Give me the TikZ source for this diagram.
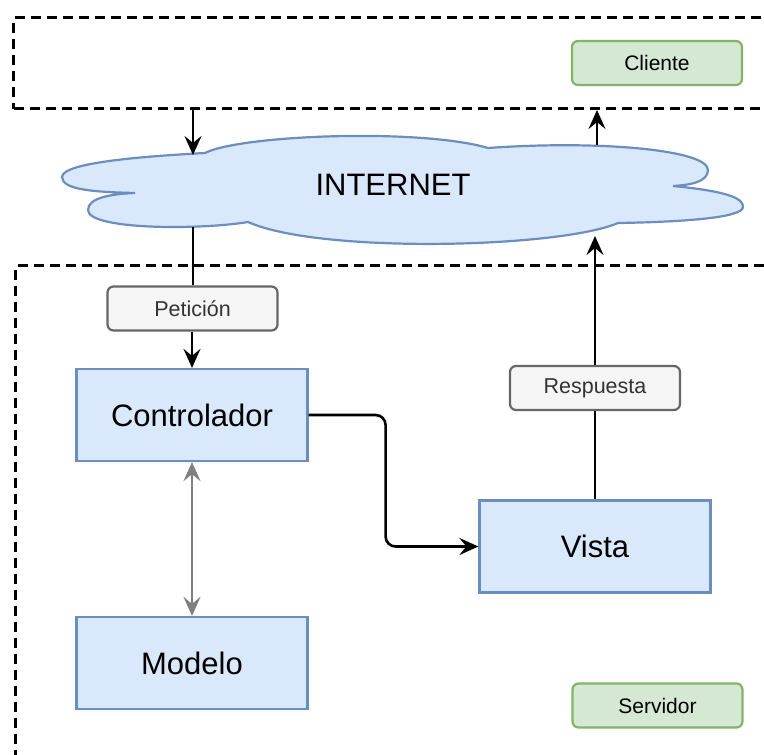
\documentclass[tikz,border=0pt]{standalone}
\usepackage{fontspec}
\setmainfont{Liberation Sans}
\usetikzlibrary{positioning,arrows.meta}
\definecolor{mvcblue}{HTML}{DAE8FC}
\definecolor{mvcblueline}{HTML}{6C8EBF}
\definecolor{zonegreen}{HTML}{D5E8D4}
\definecolor{zonegreenline}{HTML}{82B366}
\definecolor{msggray}{HTML}{F5F5F5}
\definecolor{msggrayline}{HTML}{666666}
\definecolor{msgtext}{HTML}{333333}

\begin{document}
\begin{tikzpicture}[x=1pt, y=-1pt,
  comp/.style={draw=mvcblueline, fill=mvcblue, line width=2.2pt, inner sep=0pt,
    minimum width=231pt, minimum height=92pt, font=\fontsize{31}{36}\selectfont},
  tag/.style={draw=zonegreenline, fill=zonegreen, line width=2.2pt, rounded corners=6pt,
    minimum width=170pt, minimum height=44pt, font=\fontsize{21}{25}\selectfont},
  msg/.style={draw=msggrayline, fill=msggray, text=msgtext, line width=2.2pt, rounded corners=6pt,
    minimum width=170pt, minimum height=44pt, font=\fontsize{21.5}{25}\selectfont},
  zone/.style={draw, dashed, dash pattern=on 10pt off 6pt, line width=3pt, inner sep=0pt, anchor=north west},
  arrow/.style={-{Stealth[length=19pt, width=17pt, inset=7pt]}, line width=2.6pt},
  biarrow/.style={{Stealth[length=19pt, width=17pt, inset=7pt]}-{Stealth[length=19pt, width=17pt, inset=7pt]}, line width=2.6pt, draw=gray},
  link/.style={line width=2.6pt}
]
\clip (0,0) rectangle (764,755);

% client and server areas
\node[zone, minimum width=800pt, minimum height=91pt] (clientzone) at (12,16) {};
\node[zone, minimum width=800pt, minimum height=540pt] (serverzone) at (14,264) {};
\node[tag] (cliente) at (657,63) {Cliente};
\node[tag] (servidor) at (657.5,705.5) {Servidor};

% the internet cloud
\draw[draw=mvcblueline, fill=mvcblue, line width=2.2pt]
  (62,177) .. controls (62,162) and (150,156) .. (205,153)
  .. controls (240,135) and (420,128) .. (488,148)
  .. controls (600,140) and (708,150) .. (708,170)
  .. controls (708,182) and (690,185) .. (673,186)
  .. controls (735,192) and (743,200) .. (743,207)
  .. controls (743,218) and (680,222) .. (618,223)
  .. controls (560,248) and (320,254) .. (248,222)
  .. controls (200,230) and (88,230) .. (88,210)
  .. controls (88,198) and (110,194) .. (135,193)
  .. controls (95,192) and (62,190) .. (62,177) -- cycle;
\node[font=\fontsize{31}{36}\selectfont] (internet) at (393,185) {INTERNET};
\coordinate (inTopL) at (193,155);
\coordinate (inBotL) at (193,227);
\coordinate (inTopR) at (597,145);
\coordinate (inBotR) at (595,236);

% MVC components
\node[comp] (ctrl) at (192,415) {Controlador};
\node[comp] (modelo) at (192,663) {Modelo};
\node[comp] (vista) at (595,546.5) {Vista};
\node[msg] (peticion) at (192.5,308.5) {Petición};
\node[msg] (respuesta) at (595,388) {Respuesta};

% request path
\draw[arrow] (clientzone.south -| inTopL) -- (inTopL);
\draw[link] (inBotL) -- (peticion.north -| inBotL);
\draw[arrow] (peticion.south -| ctrl.north) -- (ctrl.north);
\draw[arrow, rounded corners=10pt] (ctrl.east) -- ++(77,0) |- (vista.west);
\draw[biarrow] (ctrl.south) -- (modelo.north);

% response path
\draw[link] (vista.north) -- (respuesta.south);
\draw[arrow] (respuesta.north) -- (inBotR);
\draw[arrow] (inTopR) -- (clientzone.south -| inTopR);
\end{tikzpicture}
\end{document}
